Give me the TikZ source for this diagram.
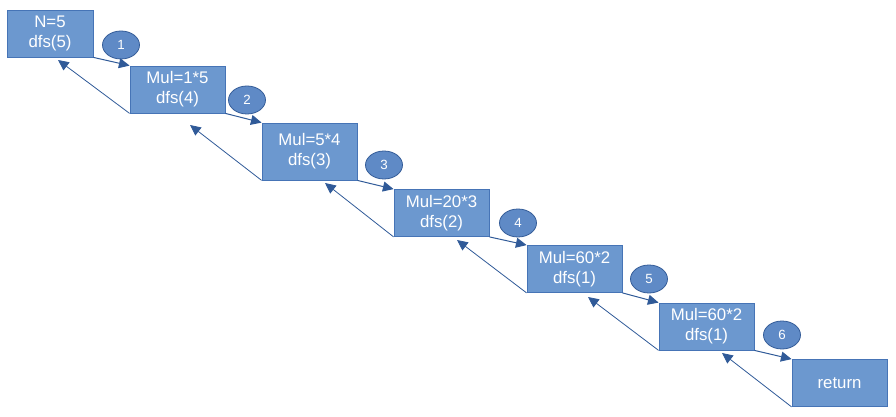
\documentclass[tikz,border=0pt]{standalone}
\usepackage{fontspec}
\setmainfont{Liberation Sans}
\usetikzlibrary{shapes.geometric,arrows.meta}
\definecolor{boxfill}{RGB}{108,152,207}
\definecolor{boxline}{RGB}{70,116,182}
\definecolor{ellfill}{RGB}{95,138,198}
\definecolor{ellline}{RGB}{52,92,152}
\definecolor{arrcol}{RGB}{48,90,152}
\tikzset{
  stepbox/.style={draw=boxline, fill=boxfill, line width=0.6pt, text=white,
    font=\fontsize{12.6}{15}\selectfont, align=center, inner sep=0pt,
    minimum width=71.25pt, minimum height=35.25pt},
  numell/.style={ellipse, draw=ellline, fill=ellfill, line width=0.6pt, text=white,
    font=\fontsize{10}{11}\selectfont, inner sep=0pt,
    minimum width=27.75pt, minimum height=21pt},
  fwd/.style={draw=arrcol, line width=0.75pt, -{Triangle[length=8pt,width=7.5pt]}},
  bwd/.style={draw=arrcol, line width=0.6pt, -{Triangle[length=8pt,width=7.5pt]}}
}
\begin{document}
\begin{tikzpicture}[x=0.75pt,y=-0.75pt]
\useasboundingbox (0,0) rectangle (896,417);
\node[stepbox, minimum width=64.5pt] (b1) at (50,33.5) {N=5\\dfs(5)};
\node[stepbox] (b2) at (177.5,89.5) {Mul=1*5\\dfs(4)};
\node[stepbox, minimum height=42.75pt] (b3) at (309.5,151.5) {Mul=5*4\\dfs(3)};
\node[stepbox] (b4) at (441.5,213) {Mul=20*3\\dfs(2)};
\node[stepbox] (b5) at (574.5,269) {Mul=60*2\\dfs(1)};
\node[stepbox] (b6) at (706.5,326.5) {Mul=60*2\\dfs(1)};
\node[stepbox] (b7) at (839.5,383) {return};

\node[numell] (e1) at (121,45) {1};
\node[numell] (e2) at (247,100) {2};
\node[numell] (e3) at (384,165) {3};
\node[numell] (e4) at (518,223) {4};
\node[numell] (e5) at (649,279) {5};
\node[numell] (e6) at (782,335) {6};

\coordinate (t1) at (58,60);
\coordinate (t2) at (190,125);
\coordinate (t3) at (325,183);
\coordinate (t4) at (457,240);
\coordinate (t5) at (588,297);
\coordinate (t6) at (722,353);

\draw[fwd] (b1.south east) -- (b2.north west);
\draw[fwd] (b2.south east) -- (b3.north west);
\draw[fwd] (b3.south east) -- (b4.north west);
\draw[fwd] (b4.south east) -- (b5.north west);
\draw[fwd] (b5.south east) -- (b6.north west);
\draw[fwd] (b6.south east) -- (b7.north west);

\draw[bwd] (b2.south west) -- (t1);
\draw[bwd] (b3.south west) -- (t2);
\draw[bwd] (b4.south west) -- (t3);
\draw[bwd] (b5.south west) -- (t4);
\draw[bwd] (b6.south west) -- (t5);
\draw[bwd] (b7.south west) -- (t6);
\end{tikzpicture}
\end{document}
